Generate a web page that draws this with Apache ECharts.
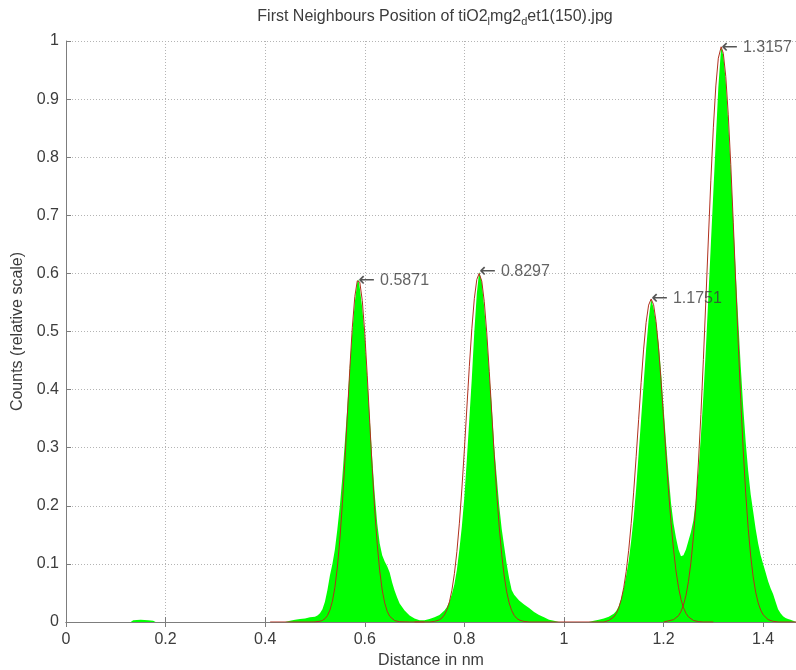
<!DOCTYPE html>
<html>
<head>
<meta charset="utf-8">
<script src="https://cdn.jsdelivr.net/npm/echarts@6/dist/echarts.min.js"></script>
<style>
  html, body { margin: 0; padding: 0; background: #fff; }
  #chart { width: 796px; height: 670px; }
</style>
</head>
<body>
<div id="chart"></div>
<script>
// Tick values
const xTicks = [0, 0.2, 0.4, 0.6, 0.8, 1, 1.2, 1.4];
const yTicks = [0, 0.1, 0.2, 0.3, 0.4, 0.5, 0.6, 0.7, 0.8, 0.9, 1];

// Histogram of first-neighbour distances: [distance (nm), relative counts]
const histogram = [
  [0, 0], [0.13, 0], [0.135, 0.003], [0.15, 0.004], [0.165, 0.003], [0.175, 0.002], [0.18, 0],
  [0.44, 0], [0.45, 0.002], [0.46, 0.004], [0.47, 0.005], [0.48, 0.006], [0.49, 0.008], [0.5, 0.009],
  [0.505, 0.011], [0.51, 0.015], [0.515, 0.022], [0.52, 0.035], [0.525, 0.055], [0.53, 0.08],
  [0.535, 0.1], [0.54, 0.125], [0.545, 0.16], [0.55, 0.2], [0.555, 0.25], [0.56, 0.31], [0.565, 0.37],
  [0.57, 0.44], [0.575, 0.5], [0.58, 0.55], [0.585, 0.585], [0.5871, 0.59], [0.59, 0.575],
  [0.595, 0.54], [0.6, 0.49], [0.605, 0.42], [0.61, 0.35], [0.615, 0.28], [0.62, 0.22], [0.625, 0.17],
  [0.63, 0.135], [0.635, 0.115], [0.64, 0.104], [0.645, 0.096], [0.65, 0.085], [0.655, 0.068],
  [0.66, 0.054], [0.665, 0.042], [0.67, 0.032], [0.68, 0.02], [0.69, 0.011], [0.7, 0.006],
  [0.71, 0.003], [0.72, 0.003], [0.73, 0.005], [0.74, 0.008], [0.75, 0.012], [0.755, 0.016],
  [0.76, 0.02], [0.765, 0.026], [0.77, 0.035], [0.775, 0.048], [0.78, 0.065], [0.785, 0.09],
  [0.79, 0.125], [0.795, 0.165], [0.8, 0.215], [0.805, 0.28], [0.81, 0.35], [0.815, 0.42],
  [0.82, 0.5], [0.825, 0.565], [0.8297, 0.603], [0.835, 0.585], [0.84, 0.54], [0.845, 0.49],
  [0.85, 0.43], [0.855, 0.37], [0.86, 0.3], [0.865, 0.25], [0.87, 0.2], [0.875, 0.16], [0.88, 0.13],
  [0.885, 0.1], [0.89, 0.075], [0.895, 0.055], [0.9, 0.047], [0.91, 0.037], [0.92, 0.03],
  [0.93, 0.024], [0.94, 0.017], [0.95, 0.012], [0.96, 0.008], [0.97, 0.004], [0.98, 0.002], [0.99, 0],
  [1.05, 0], [1.06, 0.002], [1.07, 0.004], [1.08, 0.006], [1.09, 0.009], [1.1, 0.014], [1.105, 0.019],
  [1.11, 0.027], [1.115, 0.04], [1.12, 0.058], [1.125, 0.08], [1.13, 0.105], [1.135, 0.14],
  [1.14, 0.18], [1.145, 0.23], [1.15, 0.29], [1.155, 0.35], [1.16, 0.41], [1.165, 0.47], [1.17, 0.52],
  [1.1751, 0.556], [1.18, 0.54], [1.185, 0.515], [1.19, 0.48], [1.195, 0.43], [1.2, 0.37],
  [1.205, 0.31], [1.21, 0.255], [1.215, 0.205], [1.22, 0.17], [1.225, 0.145], [1.23, 0.125],
  [1.235, 0.113], [1.24, 0.115], [1.245, 0.125], [1.25, 0.14], [1.255, 0.155], [1.26, 0.175],
  [1.265, 0.21], [1.27, 0.26], [1.275, 0.32], [1.28, 0.39], [1.285, 0.47], [1.29, 0.56], [1.295, 0.65],
  [1.3, 0.74], [1.305, 0.83], [1.31, 0.92], [1.3157, 0.99], [1.32, 0.975], [1.325, 0.93], [1.33, 0.86],
  [1.335, 0.78], [1.34, 0.69], [1.345, 0.6], [1.35, 0.52], [1.355, 0.44], [1.36, 0.37], [1.365, 0.31],
  [1.37, 0.26], [1.375, 0.22], [1.38, 0.19], [1.385, 0.16], [1.39, 0.135], [1.395, 0.115], [1.4, 0.1],
  [1.405, 0.085], [1.41, 0.07], [1.415, 0.058], [1.42, 0.048], [1.425, 0.035], [1.43, 0.022],
  [1.435, 0.015], [1.44, 0.01], [1.445, 0.007], [1.45, 0.005], [1.455, 0.004], [1.46, 0.002], [1.466, 0.001]
];

// Fitted curve around each peak
const fit1 = [
  [0.41, 0], [0.49, 0], [0.5, 0.0002], [0.51, 0.0013], [0.515, 0.0027], [0.52, 0.0056], [0.525, 0.011],
  [0.53, 0.0204], [0.535, 0.0357], [0.54, 0.0596], [0.545, 0.0946], [0.55, 0.1423], [0.555, 0.2036],
  [0.56, 0.2762], [0.565, 0.3562], [0.57, 0.4362], [0.575, 0.5072], [0.58, 0.56], [0.585, 0.5873],
  [0.5871, 0.59], [0.59, 0.5849], [0.595, 0.5532], [0.6, 0.4968], [0.605, 0.4237], [0.61, 0.3433],
  [0.615, 0.264], [0.62, 0.1929], [0.625, 0.1338], [0.63, 0.0881], [0.635, 0.0551], [0.64, 0.0328],
  [0.645, 0.0185], [0.65, 0.0099], [0.66, 0.0024], [0.67, 0.0005], [0.69, 0], [0.72, 0]
];
const fit2 = [
  [0.7, 0], [0.73, 0], [0.74, 0.001], [0.75, 0.0037], [0.755, 0.0069], [0.76, 0.0123], [0.765, 0.0211],
  [0.77, 0.0347], [0.775, 0.0548], [0.78, 0.0832], [0.785, 0.1213], [0.79, 0.1701], [0.795, 0.229],
  [0.8, 0.2963], [0.805, 0.3683], [0.81, 0.4399], [0.815, 0.5047], [0.82, 0.5565], [0.825, 0.5895],
  [0.8297, 0.6], [0.835, 0.5867], [0.84, 0.5512], [0.845, 0.4976], [0.85, 0.4315], [0.855, 0.3596],
  [0.86, 0.2879], [0.865, 0.2214], [0.87, 0.1636], [0.875, 0.1162], [0.88, 0.0793], [0.885, 0.052],
  [0.89, 0.0327], [0.895, 0.0198], [0.9, 0.0115], [0.905, 0.0064], [0.91, 0.0035], [0.92, 0.0009],
  [0.93, 0], [1.0, 0]
];
const fit3 = [
  [1.0, 0], [1.08, 0], [1.09, 0.0026], [1.1, 0.0086], [1.105, 0.0147], [1.11, 0.0242], [1.115, 0.0384],
  [1.12, 0.0589], [1.125, 0.0869], [1.13, 0.1235], [1.135, 0.1693], [1.14, 0.2235], [1.145, 0.2845],
  [1.15, 0.3489], [1.155, 0.4124], [1.16, 0.4697], [1.165, 0.5156], [1.17, 0.5454], [1.1751, 0.556],
  [1.18, 0.5462], [1.185, 0.5171], [1.19, 0.4718], [1.195, 0.4148], [1.2, 0.3515], [1.205, 0.287],
  [1.21, 0.2258], [1.215, 0.1713], [1.22, 0.1252], [1.225, 0.0881], [1.23, 0.0598], [1.235, 0.0391],
  [1.24, 0.0247], [1.245, 0.015], [1.25, 0.0088], [1.26, 0.0027], [1.27, 0.0007], [1.28, 0], [1.3, 0]
];
const fit4 = [
  [1.2, 0], [1.22, 0.004], [1.23, 0.0108], [1.235, 0.018], [1.24, 0.0291], [1.245, 0.0456], [1.25, 0.0695],
  [1.255, 0.1025], [1.26, 0.1466], [1.265, 0.2034], [1.27, 0.2737], [1.275, 0.3571], [1.28, 0.4517],
  [1.285, 0.5543], [1.29, 0.6592], [1.295, 0.7604], [1.3, 0.8506], [1.305, 0.9226], [1.31, 0.9704],
  [1.3157, 0.99], [1.32, 0.9788], [1.325, 0.9387], [1.33, 0.8729], [1.335, 0.7872], [1.34, 0.6882],
  [1.345, 0.5836], [1.35, 0.4798], [1.355, 0.3825], [1.36, 0.2958], [1.365, 0.2218], [1.37, 0.1612],
  [1.375, 0.1137], [1.38, 0.0777], [1.385, 0.0515], [1.39, 0.0331], [1.395, 0.0206], [1.4, 0.0125],
  [1.41, 0.0041], [1.42, 0.0012], [1.43, 0], [1.466, 0]
];

// Peak positions with their labelled values
const peaks = [[0.5871, 0.588], [0.8297, 0.603], [1.1751, 0.556], [1.3157, 0.988]];

const FONT = 'Liberation Sans';
const TEXT = '#3c3c3c';
const AXIS = '#7d7d7d';
const GRID = '#b4b4b4';

const fmt = v => (v === 0 ? '0' : v === 1 ? '1' : String(+v.toFixed(1)));

const chart = echarts.init(document.getElementById('chart'), null, { renderer: 'canvas' });

const fitSeries = [fit1, fit2, fit3, fit4].map((d, i) => ({
  name: 'fit' + (i + 1),
  type: 'line',
  data: d,
  showSymbol: false,
  symbol: 'none',
  smooth: false,
  lineStyle: { color: '#b0301e', width: 1 },
  silent: true,
  z: 3
}));

chart.setOption({
  animation: false,
  backgroundColor: '#ffffff',
  title: {
    text: '{a|First Neighbours Position of tiO2}{s|l}{a|mg2}{s|d}{a|et1(150).jpg}',
    left: 430,
    top: 4,
    textAlign: 'center',
    textStyle: {
      rich: {
        a: { fontFamily: FONT, fontSize: 16, fontWeight: 'normal', color: TEXT, lineHeight: 18, verticalAlign: 'top', padding: [0, 0, 6, 0] },
        s: { fontFamily: FONT, fontSize: 11, fontWeight: 'normal', color: TEXT, lineHeight: 13, verticalAlign: 'bottom', padding: [12, 0, 0, 0] }
      }
    }
  },
  grid: { left: 66, right: 0, top: 41, bottom: 48, containLabel: false, outerBoundsMode: 'none' },
  xAxis: [
    {
      type: 'value',
      min: 0,
      max: 1.466,
      interval: 0.2,
      name: 'Distance in nm',
      nameLocation: 'middle',
      nameGap: 31,
      nameTextStyle: { fontFamily: FONT, fontSize: 16, color: TEXT },
      axisLine: { show: true, onZero: false, lineStyle: { color: AXIS, width: 1 } },
      axisTick: { show: true, inside: true, length: 5, lineStyle: { color: AXIS } },
      axisLabel: {
        fontFamily: FONT, fontSize: 16, color: TEXT, margin: 10,
        showMaxLabel: false,
        formatter: v => (xTicks.some(t => Math.abs(t - v) < 1e-6) ? fmt(v) : '')
      },
      splitLine: { show: true, lineStyle: { color: GRID, type: [1, 2], width: 1 } }
    },
    {
      type: 'value',
      position: 'top',
      min: 0,
      max: 1.466,
      interval: 0.2,
      axisLine: { show: true, lineStyle: { color: AXIS, width: 1 } },
      axisTick: { show: true, inside: true, length: 5, lineStyle: { color: AXIS } },
      axisLabel: { show: false },
      splitLine: { show: false }
    }
  ],
  yAxis: {
    type: 'value',
    min: 0,
    max: 1,
    interval: 0.1,
    name: 'Counts (relative scale)',
    nameLocation: 'middle',
    nameGap: 40,
    nameTextStyle: { fontFamily: FONT, fontSize: 16, color: TEXT },
    axisLine: { show: true, lineStyle: { color: AXIS, width: 1 } },
    axisTick: { show: true, inside: true, length: 5, lineStyle: { color: AXIS } },
    axisLabel: {
      fontFamily: FONT, fontSize: 16, color: TEXT, margin: 7,
      formatter: v => (yTicks.some(t => Math.abs(t - v) < 1e-6) ? fmt(v) : '')
    },
    splitLine: { show: true, lineStyle: { color: GRID, type: [1, 2], width: 1 } }
  },
  series: [
    {
      name: 'histogram',
      type: 'line',
      data: histogram,
      showSymbol: false,
      symbol: 'none',
      lineStyle: { width: 0 },
      areaStyle: { color: '#00ff00', opacity: 1 },
      itemStyle: { color: '#00ff00' },
      silent: true,
      z: 2
    },
    ...fitSeries,
    {
      name: 'peaks',
      type: 'scatter',
      data: peaks,
      symbolSize: 0,
      silent: true,
      z: 5,
      label: {
        show: true,
        position: 'right',
        distance: 0,
        formatter: p => '{ar|\u2190}{t|' + p.value[0].toFixed(4) + '}',
        rich: {
          ar: { fontFamily: 'DejaVu Sans', fontSize: 20, color: '#2a2a2a' },
          t: { fontFamily: FONT, fontSize: 16, color: TEXT, padding: [0, 0, 0, 5] }
        }
      }
    }
  ]
});
</script>
</body>
</html>
